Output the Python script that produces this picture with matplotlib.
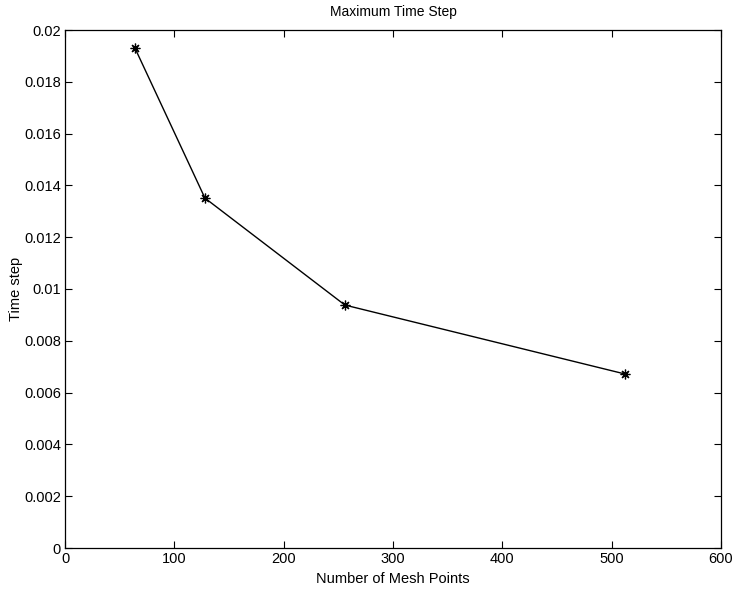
import matplotlib
matplotlib.use('Agg')
import matplotlib.pyplot as plt

# Data
mesh_points = [64, 128, 256, 512]
time_step = [0.0193, 0.01351, 0.00938, 0.00672]

x_ticks = [0, 100, 200, 300, 400, 500, 600]
y_ticks = [0, 0.002, 0.004, 0.006, 0.008, 0.01, 0.012, 0.014, 0.016, 0.018, 0.02]
y_labels = ['0', '0.002', '0.004', '0.006', '0.008', '0.01', '0.012',
            '0.014', '0.016', '0.018', '0.02']

plt.rcParams['font.family'] = ['Liberation Sans', 'DejaVu Sans']
plt.rcParams['font.size'] = 10

fig = plt.figure(figsize=(7.37, 5.91), dpi=100)
# axes box in pixels: left 65, right 721, top 30, bottom 548
ax = fig.add_axes([65 / 737, 43 / 591, 656 / 737, 518 / 591])

ax.plot(mesh_points, time_step, color='black', linewidth=1.0,
        marker=(8, 2, 0), markersize=7, markeredgewidth=0.9)

ax.set_xlim(0, 600)
ax.set_ylim(0, 0.02)
ax.set_xticks(x_ticks)
ax.set_yticks(y_ticks)
ax.set_yticklabels(y_labels)
ax.tick_params(direction='in', length=5, top=True, right=True,
               labelsize=10.5, width=0.8, pad=3)
for s in ax.spines.values():
    s.set_linewidth(0.9)

ax.set_title('Maximum Time Step', fontsize=10, pad=10)
ax.set_xlabel('Number of Mesh Points', fontsize=10.5, labelpad=4)
ax.set_ylabel('Time step', fontsize=10.5, labelpad=1)

fig.savefig('out.png', dpi=100, facecolor='white')
